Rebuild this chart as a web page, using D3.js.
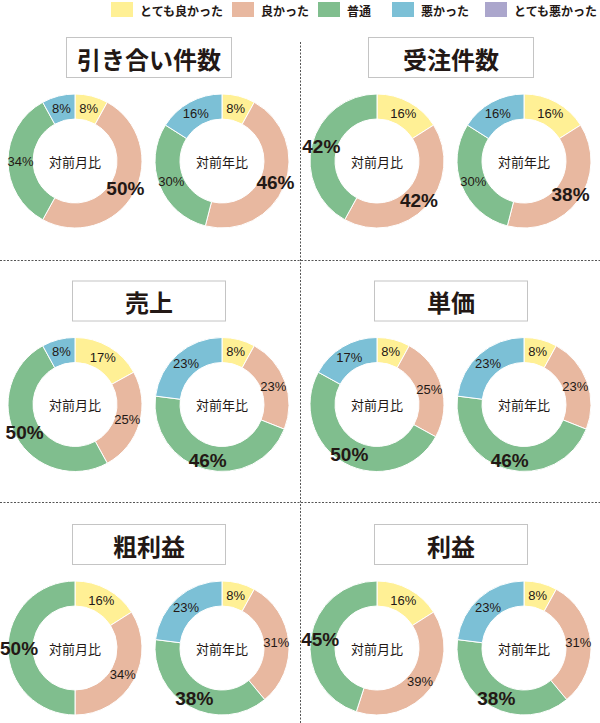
<!DOCTYPE html>
<html>
<head>
<meta charset="utf-8">
<script src="https://cdn.jsdelivr.net/npm/d3@7"></script>
<style>
  body { margin: 0; background: #fff; }
</style>
</head>
<body>
<div id="visualization"></div>
<script>
// categories and colours
var categories = ["とても良かった", "良かった", "普通", "悪かった", "とても悪かった"];
var colors = ["#fff095", "#e8b8a0", "#80be8e", "#7cc0d6", "#aba6cc"];

// panel titles and the two donut captions
var titles = ["引き合い件数", "受注件数", "売上", "単価", "粗利益", "利益"];
var captions = ["対前月比", "対前年比"];

// percentages per panel, order = categories
var monthValues = [
    [8, 50, 34, 8, 0],
    [16, 42, 42, 0, 0],
    [17, 25, 50, 8, 0],
    [8, 25, 50, 17, 0],
    [16, 34, 50, 0, 0],
    [16, 39, 45, 0, 0]
];
var yearValues = [
    [8, 46, 30, 16, 0],
    [16, 38, 30, 16, 0],
    [8, 23, 46, 23, 0],
    [8, 23, 46, 23, 0],
    [8, 31, 38, 23, 0],
    [8, 31, 38, 23, 0]
];

const width = 600;
const height = 723;
const jpFont = "'Noto Sans CJK JP', 'Noto Sans', sans-serif";
const numFont = "'Liberation Sans', Arial, sans-serif";

const svg = d3.select("#visualization").append("svg")
    .attr("width", width)
    .attr("height", height);

// legend
const legendX = [111, 232, 318, 392, 485];
const legend = svg.append("g");
categories.forEach(function(c, i) {
    legend.append("rect")
        .attr("x", legendX[i]).attr("y", 2)
        .attr("width", 22).attr("height", 15)
        .attr("fill", colors[i]);
    legend.append("text")
        .attr("x", legendX[i] + 29).attr("y", 10)
        .attr("dominant-baseline", "central")
        .style("font", "600 12px " + jpFont)
        .attr("fill", "#231815")
        .text(c);
});

// dotted separators
const sep = svg.append("g")
    .attr("stroke", "#555")
    .attr("stroke-width", 1)
    .attr("stroke-dasharray", "2,1.5");
sep.append("line").attr("x1", 300.5).attr("x2", 300.5).attr("y1", 42).attr("y2", height);
[260.5, 502.5].forEach(function(y) {
    sep.append("line").attr("x1", 0).attr("x2", width).attr("y1", y).attr("y2", y);
});

const rowCenterY = [161, 404.5, 648];
const colOffset = [0, 302];
const donutX = [75, 222];
const outerR = 67, innerR = 42;

const pie = d3.pie().sort(null).value(d => d);
const arc = d3.arc().innerRadius(innerR).outerRadius(outerR);
const labelArc = d3.arc().innerRadius((innerR + outerR) / 2).outerRadius((innerR + outerR) / 2);

titles.forEach(function(title, p) {
    var row = Math.floor(p / 2), col = p % 2;
    var cy = rowCenterY[row];
    var g = svg.append("g").attr("transform", `translate(${colOffset[col]},0)`);

    // title box (first row slightly wider)
    var bw = row === 0 ? 165 : 153;
    var bx = row === 0 ? 66 : 72;
    var by = cy - 124, bh = 40;
    g.append("rect")
        .attr("x", bx + 0.5).attr("y", by + 0.5)
        .attr("width", bw).attr("height", bh)
        .attr("fill", "#fff")
        .attr("stroke", "#c4c4c4");
    g.append("text")
        .attr("x", bx + bw / 2 + 0.5).attr("y", by + bh / 2 + 1)
        .attr("text-anchor", "middle")
        .attr("dominant-baseline", "central")
        .style("font", "bold 24px " + jpFont)
        .attr("fill", "#231815")
        .text(title);

    [monthValues[p], yearValues[p]].forEach(function(vals, k) {
        var maxV = d3.max(vals);
        var ox = colOffset[col] + donutX[k];
        var d = g.append("g").attr("transform", `translate(${donutX[k]},${cy})`);
        var arcs = pie(vals).filter(a => a.data > 0);

        d.selectAll("path")
            .data(arcs)
            .join("path")
            .attr("d", arc)
            .attr("fill", a => colors[a.index])
            .attr("stroke", "#fff")
            .attr("stroke-width", 1);

        d.selectAll("text.pct")
            .data(arcs)
            .join("text")
            .attr("class", "pct")
            .attr("text-anchor", "middle")
            .attr("dominant-baseline", "central")
            .style("font", a => a.data === maxV ? "bold 19px " + numFont : "13px " + numFont)
            .attr("fill", "#231815")
            .text(a => a.data + "%")
            .attr("transform", function(a) {
                var c = labelArc.centroid(a);
                if (a.data === maxV) {
                    var m = (a.startAngle + a.endAngle) / 2;
                    c = [c[0] + Math.sin(m) * 3, c[1] - Math.cos(m) * 3];
                }
                // keep the label inside the page on the left edge
                var half = this.getComputedTextLength() / 2;
                if (ox + c[0] - half < 0) c[0] = half - ox;
                return `translate(${c[0]},${c[1]})`;
            });

        d.append("text")
            .attr("text-anchor", "middle")
            .attr("dominant-baseline", "central")
            .style("font", "13px " + jpFont)
            .attr("fill", "#231815")
            .text(captions[k]);
    });
});
</script>
</body>
</html>
